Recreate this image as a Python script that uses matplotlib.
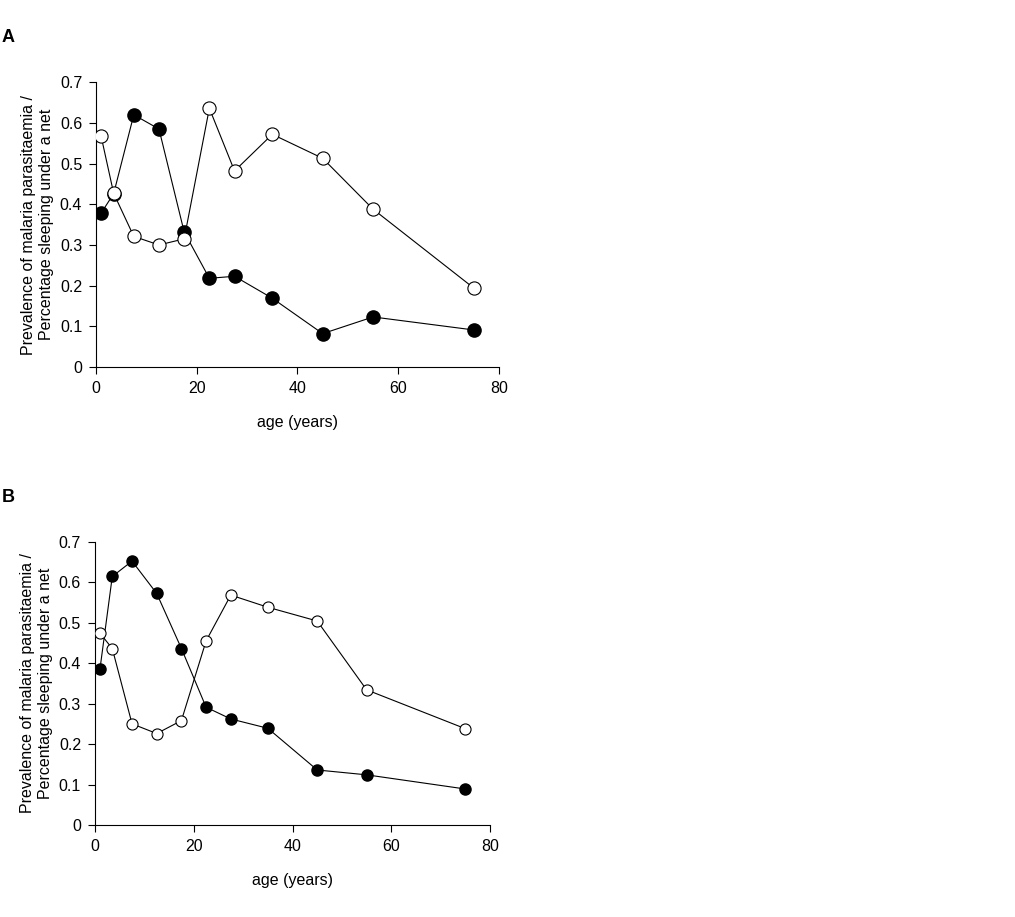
import matplotlib
matplotlib.use("Agg")
import matplotlib.pyplot as plt

plt.rcParams["font.family"] = ["Liberation Sans", "DejaVu Sans"]

ages = [1, 3.5, 7.5, 12.5, 17.5, 22.5, 27.5, 35, 45, 55, 75]

# panel A
a_filled = [0.378, 0.426, 0.620, 0.585, 0.332, 0.218, 0.223, 0.169, 0.082, 0.123, 0.091]
a_open = [0.568, 0.427, 0.321, 0.300, 0.315, 0.636, 0.482, 0.572, 0.513, 0.388, 0.194]

# panel B
b_filled = [0.385, 0.614, 0.652, 0.572, 0.436, 0.291, 0.262, 0.239, 0.136, 0.124, 0.089]
b_open = [0.474, 0.436, 0.250, 0.226, 0.258, 0.455, 0.568, 0.538, 0.504, 0.334, 0.238]

xticks = [0, 20, 40, 60, 80]
yticks = [0, 0.1, 0.2, 0.3, 0.4, 0.5, 0.6, 0.7]
ylabel = "Prevalence of malaria parasitaemia /\nPercentage sleeping under a net"

fig = plt.figure(figsize=(10.15, 9.17), dpi=100)


def panel(rect, filled, opened, ms, letter, letter_y):
    ax = fig.add_axes(rect)
    ax.plot(ages, filled, color="black", lw=0.8, marker="o", ms=ms,
            mfc="black", mec="black", zorder=3)
    ax.plot(ages, opened, color="black", lw=0.8, marker="o", ms=ms,
            mfc="white", mec="black", mew=0.8, zorder=4)
    ax.set_xlim(0, 80)
    ax.set_ylim(0, 0.7)
    ax.set_xticks(xticks)
    ax.set_yticks(yticks)
    ax.set_yticklabels(["0" if t == 0 else f"{t:.1f}" for t in yticks])
    for s in ["top", "right"]:
        ax.spines[s].set_visible(False)
    for s in ["left", "bottom"]:
        ax.spines[s].set_linewidth(0.8)
    ax.tick_params(direction="out", length=5, width=0.8, labelsize=11.5, pad=5)
    ax.set_xlabel("age (years)", fontsize=11.5, labelpad=14)
    ax.set_ylabel(ylabel, fontsize=11.5, labelpad=4, linespacing=1.3)
    fig.text(0.002, letter_y, letter, fontsize=13, fontweight="bold",
             ha="left", va="center")
    return ax


panel([0.0946, 0.5998, 0.3970, 0.3105], a_filled, a_open, 9.5, "A", 1 - 37 / 917)
panel([0.0936, 0.1003, 0.3892, 0.3090], b_filled, b_open, 8, "B", 1 - 497 / 917)

fig.savefig("out.png", dpi=100)
